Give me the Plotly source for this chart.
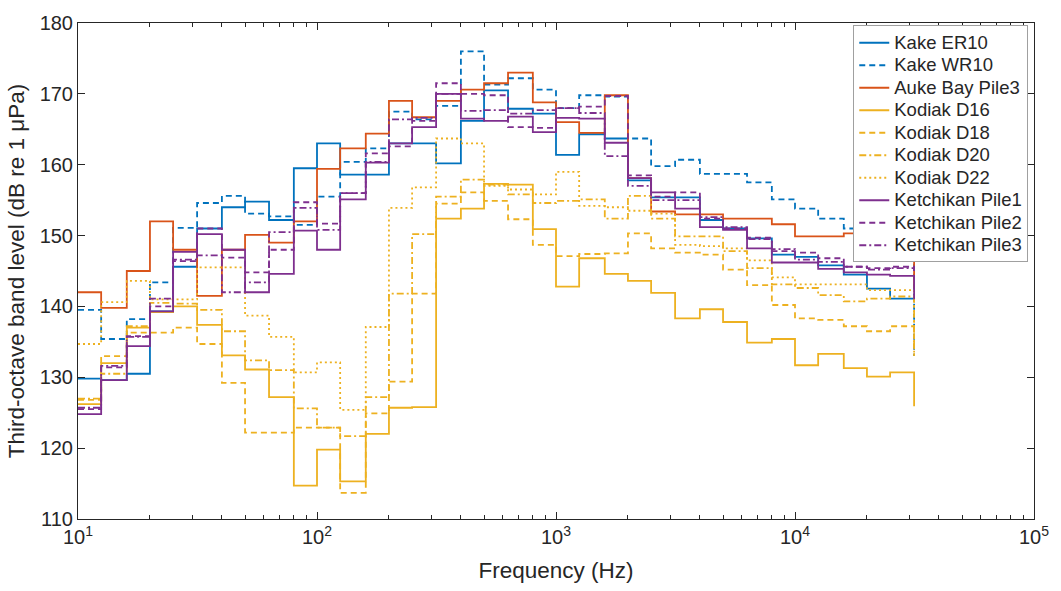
import plotly.graph_objects as go

# Third-octave band centre frequencies (Hz)
freq_hz = [10, 12.5, 16, 20, 25, 31.5, 40, 50, 63, 80, 100, 125, 160, 200, 250,
           315, 400, 500, 630, 800, 1000, 1250, 1600, 2000, 2500, 3150, 4000,
           5000, 6300, 8000, 10000, 12500, 16000, 20000, 25000, 31500]

# Band levels, dB re 1 uPa
kake_er10 = [129.8, 129.6, 130.5, 139.3, 145.6, 151.0, 154.0, 154.8, 152.2, 159.5,
             163.0, 158.6, 158.6, 163.0, 163.0, 160.2, 166.2, 170.5, 167.9, 167.2,
             161.4, 164.3, 163.7, 157.8, 155.4, 155.4, 152.2, 151.0, 149.6, 147.3,
             147.0, 145.8, 144.5, 142.5, 141.1, 140.6]
kake_wr10 = [139.5, 135.4, 138.2, 143.4, 151.1, 154.6, 155.6, 153.1, 152.7, 151.5,
             155.5, 160.4, 162.3, 167.5, 166.4, 168.3, 176.0, 171.3, 172.2, 170.6,
             168.0, 169.8, 169.6, 163.7, 159.8, 160.7, 158.7, 158.7, 157.5, 155.1,
             153.8, 152.4, 151.0, 150.4, 148.5, 133.0]
auke_bay_pile3 = [142.0, 139.8, 145.0, 152.0, 148.0, 141.5, 148.0, 150.1, 149.0, 152.0,
                  159.4, 162.3, 164.4, 169.0, 166.7, 169.0, 170.6, 171.5, 173.0, 168.8,
                  166.0, 164.5, 169.8, 158.1, 153.4, 153.0, 153.0, 152.4, 152.4, 151.6,
                  149.9, 149.9, 150.3, 150.3, 146.4, 142.5]
kodiak_d16 = [126.2, 132.0, 137.0, 139.2, 140.0, 137.4, 133.1, 131.1, 127.2, 114.7,
              119.8, 115.3, 122.0, 125.7, 125.8, 152.4, 153.8, 157.3, 157.2, 150.9,
              142.8, 146.8, 144.6, 143.6, 141.9, 138.3, 139.6, 137.8, 134.9, 135.4,
              131.7, 133.3, 131.3, 130.1, 130.7, 125.9]
kodiak_d18 = [126.8, 133.0, 136.3, 136.3, 137.0, 134.7, 129.2, 122.2, 122.2, 122.9,
              122.9, 113.7, 124.9, 129.4, 141.8, 154.5, 156.1, 154.9, 152.3, 148.7,
              147.1, 147.4, 147.5, 150.3, 148.2, 147.6, 147.3, 145.2, 143.0, 140.2,
              138.3, 138.1, 137.2, 136.5, 137.2, 133.0]
kodiak_d20 = [127.0, 130.5, 137.2, 140.5, 140.4, 139.5, 136.5, 132.4, 131.0, 125.6,
              122.9, 121.7, 127.2, 141.8, 150.2, 155.5, 157.9, 157.2, 155.8, 154.6,
              154.9, 155.1, 152.4, 155.6, 152.4, 149.9, 149.9, 147.8, 145.4, 143.1,
              142.6, 141.6, 140.7, 141.1, 141.4, 133.5]
kodiak_d22 = [134.7, 140.6, 143.6, 141.0, 141.0, 145.5, 145.5, 138.7, 135.7, 130.7,
              132.1, 125.4, 137.1, 153.9, 156.8, 163.7, 163.0, 157.0, 156.5, 155.8,
              159.0, 154.2, 154.0, 153.5, 153.1, 148.7, 148.5, 148.2, 146.5, 144.1,
              143.1, 143.1, 143.1, 142.3, 142.3, 134.0]
ketchikan_pile1 = [124.8, 129.6, 134.4, 139.3, 147.7, 150.2, 148.0, 142.0, 144.6, 150.7,
                   148.0, 155.1, 160.3, 163.0, 165.3, 170.0, 166.5, 166.2, 166.8, 164.6,
                   166.6, 166.5, 163.1, 158.1, 156.1, 153.8, 151.2, 150.8, 148.2, 146.2,
                   146.2, 145.3, 144.8, 144.5, 144.3, 141.0]
ketchikan_pile2 = [125.5, 131.4, 135.8, 140.0, 146.4, 151.0, 146.9, 144.8, 148.0, 154.7,
                   151.7, 156.0, 161.6, 162.6, 166.2, 171.5, 170.0, 169.8, 165.3, 165.2,
                   168.0, 168.2, 169.7, 158.5, 155.5, 156.1, 152.4, 151.0, 149.7, 147.8,
                   147.6, 146.8, 145.6, 145.4, 145.6, 145.0]
ketchikan_pile3 = [125.7, 131.6, 135.7, 141.1, 146.6, 147.2, 142.0, 143.4, 150.5, 153.9,
                   150.8, 156.0, 160.4, 166.4, 166.6, 170.0, 167.6, 167.7, 167.2, 167.7,
                   168.0, 167.3, 161.2, 157.0, 155.0, 155.0, 152.6, 151.2, 149.5, 148.1,
                   146.6, 146.3, 145.6, 145.2, 145.4, 145.0]

BLUE, ORANGE, YELLOW, PURPLE = "#0072BD", "#D95319", "#EDB120", "#7E2F8E"
SOLID, DASHED, DASHDOT, DOTTED = "solid", "6px,4px", "7px,3px,2px,3px", "2px,3px"

series = [
    ("Kake ER10", kake_er10, BLUE, SOLID),
    ("Kake WR10", kake_wr10, BLUE, DASHED),
    ("Auke Bay Pile3", auke_bay_pile3, ORANGE, SOLID),
    ("Kodiak D16", kodiak_d16, YELLOW, SOLID),
    ("Kodiak D18", kodiak_d18, YELLOW, DASHED),
    ("Kodiak D20", kodiak_d20, YELLOW, DASHDOT),
    ("Kodiak D22", kodiak_d22, YELLOW, DOTTED),
    ("Ketchikan Pile1", ketchikan_pile1, PURPLE, SOLID),
    ("Ketchikan Pile2", ketchikan_pile2, PURPLE, DASHED),
    ("Ketchikan Pile3", ketchikan_pile3, PURPLE, DASHDOT),
]

# Legend rows are packed tighter than the default spacing: the legend font
# size sets the row pitch, the span sets the size of the visible label.
LEGEND_TEXT = '<span style="font-size:18.5px">{}</span>'

fig = go.Figure()
for name, levels, color, dash in series:
    fig.add_trace(go.Scatter(
        x=freq_hz, y=levels, name=LEGEND_TEXT.format(name), mode="lines",
        line=dict(shape="hv", color=color, dash=dash, width=1.8),
    ))

AX = "#262626"
decades = [10, 100, 1000, 10000, 100000]
minor_ticks = [m * d for d in decades[:-1] for m in range(2, 10)]

fig.update_xaxes(
    type="log", range=[1, 5],
    tickvals=decades,
    ticktext=["10<sup>1</sup>", "10<sup>2</sup>", "10<sup>3</sup>",
              "10<sup>4</sup>", "10<sup>5</sup>"],
    ticks="inside", ticklen=7, tickcolor=AX, mirror="ticks",
    showline=True, linecolor=AX, linewidth=1,
    showgrid=False, zeroline=False,
    minor=dict(tickvals=minor_ticks, ticks="inside", ticklen=4,
               tickcolor=AX, showgrid=False),
    title=dict(text="Frequency (Hz)", font=dict(size=22.5)),
)
fig.update_yaxes(
    range=[110, 180], tickvals=list(range(110, 181, 10)),
    ticks="inside", ticklen=7, tickcolor=AX, mirror="ticks",
    showline=True, linecolor=AX, linewidth=1,
    showgrid=False, zeroline=False,
    title=dict(text="Third-octave band level (dB re 1 \u03bcPa)",
               font=dict(size=22.5), standoff=8),
)

fig.update_layout(
    width=1061, height=591,
    margin=dict(l=78, r=17, t=20, b=64),
    paper_bgcolor="white", plot_bgcolor="white",
    font=dict(family="Arial, 'Liberation Sans', Helvetica, sans-serif",
              size=20, color=AX),
    legend=dict(x=0.994, y=0.995, xanchor="right", yanchor="top",
                bgcolor="white", bordercolor="#a0a0a0", borderwidth=1,
                font=dict(size=15), itemwidth=30, tracegroupgap=0),
)

fig.write_html("out.html")
